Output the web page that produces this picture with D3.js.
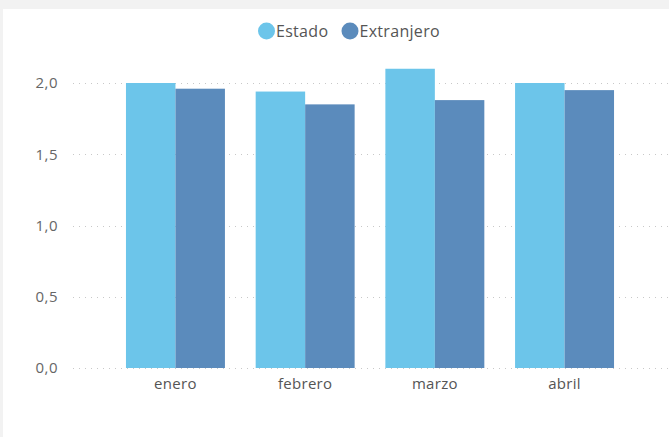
<!DOCTYPE html>
<html>
<head>
<meta charset="utf-8">
<script src="https://cdn.jsdelivr.net/npm/d3@7"></script>
<style>
  body { margin: 0; background: #f2f2f2; }
  svg { display: block; font-family: "Open Sans", "Noto Sans", sans-serif; }
</style>
</head>
<body>
<svg></svg>
<script>
var width = 669,
    height = 437

var months = ["enero", "febrero", "marzo", "abril"]
var series = ["Estado", "Extranjero"]
var estado = [2.0, 1.94, 2.1, 2.0]
var extranjero = [1.96, 1.85, 1.88, 1.95]
var yTicks = [0, 0.5, 1, 1.5, 2]
var colors = ["#6cc5ea", "#5b8bbc"]

var data = months.map(function(m, i) {
  return {month: m, values: [estado[i], extranjero[i]]}
})

var svg = d3.select("svg").attr("width", width).attr("height", height)

// card background with the grey strip on top and left
svg.append("rect").attr("width", width).attr("height", height).attr("fill", "#f2f2f2")
svg.append("rect").attr("x", 3).attr("y", 9).attr("width", width - 3).attr("height", height - 9).attr("fill", "#fff")

var x = d3.scaleBand()
  .domain(months)
  .range([110.6, 629.4])
  .paddingInner(0.237)
  .paddingOuter(0.1185)

var x1 = d3.scaleBand()
  .domain(series)
  .range([0, x.bandwidth()])

var y = d3.scaleLinear()
  .domain([0, 2])
  .range([368, 83])

// gridlines
svg.append("g")
  .selectAll("line")
  .data(yTicks)
  .enter().append("line")
  .attr("x1", 73)
  .attr("x2", 668)
  .attr("y1", function(d) { return Math.round(y(d)) + 0.5 })
  .attr("y2", function(d) { return Math.round(y(d)) + 0.5 })
  .attr("stroke", "#c8c8c8")
  .attr("stroke-width", 1)
  .attr("stroke-dasharray", "1,5")

// y axis labels
var fmt = d3.format(".1f")
svg.append("g")
  .selectAll("text")
  .data(yTicks)
  .enter().append("text")
  .attr("x", 58)
  .attr("y", function(d) { return y(d) })
  .attr("dy", "0.35em")
  .attr("text-anchor", "end")
  .attr("font-size", 15)
  .attr("letter-spacing", 0.5)
  .attr("fill", "#666")
  .text(function(d) { return fmt(d).replace(".", ",") })

// bars
var groups = svg.append("g")
  .selectAll("g")
  .data(data)
  .enter().append("g")
  .attr("transform", function(d) { return "translate(" + x(d.month) + ",0)" })

groups.selectAll("rect")
  .data(function(d) { return d.values.map(function(v, i) { return {key: series[i], value: v, i: i} }) })
  .enter().append("rect")
  .attr("x", function(d) { return x1(d.key) })
  .attr("width", x1.bandwidth())
  .attr("y", function(d) { return y(d.value) })
  .attr("height", function(d) { return y(0) - y(d.value) })
  .attr("fill", function(d) { return colors[d.i] })

// x axis labels
svg.append("g")
  .selectAll("text")
  .data(months)
  .enter().append("text")
  .attr("x", function(d) { return x(d) + x.bandwidth() / 2 })
  .attr("y", 389)
  .attr("text-anchor", "middle")
  .attr("font-size", 15)
  .attr("letter-spacing", 0.3)
  .attr("fill", "#555")
  .text(function(d) { return d })

// legend
var legendX = [266.5, 350]
var legend = svg.append("g")
  .selectAll("g")
  .data(series)
  .enter().append("g")
  .attr("transform", function(d, i) { return "translate(" + legendX[i] + ",31)" })

legend.append("circle")
  .attr("r", 8.5)
  .attr("fill", function(d, i) { return colors[i] })

legend.append("text")
  .attr("x", 9.5)
  .attr("dy", "0.35em")
  .attr("font-size", 16)
  .attr("letter-spacing", 0.3)
  .attr("fill", "#555")
  .text(function(d) { return d })
</script>
</body>
</html>
